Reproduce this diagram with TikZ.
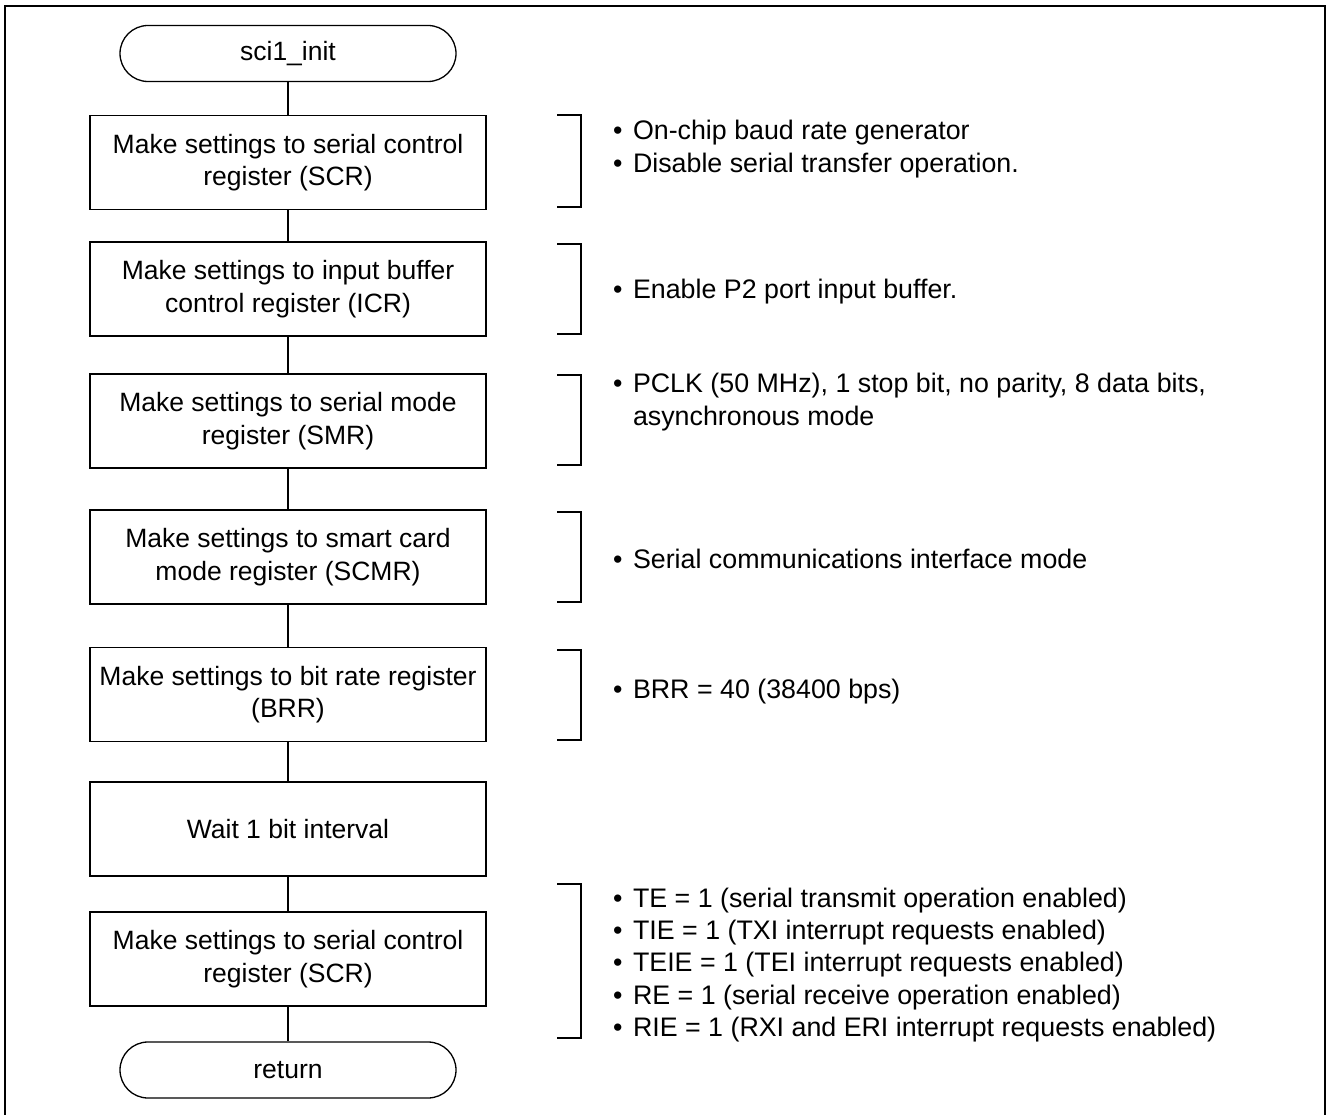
\documentclass[tikz,border=0pt]{standalone}
\usepackage{fontspec}
\setmainfont{Liberation Sans}
\newcommand{\bul}{•\hspace{3pt} }
\begin{document}
\begin{tikzpicture}[x=1pt,y=-1pt,
  every node/.style={font=\fontsize{26.5}{32.3}\selectfont, inner sep=0pt},
  procbox/.style={draw, line width=1.3pt, minimum width=396pt, minimum height=94pt, align=center},
  terminal/.style={draw, line width=1.3pt, rounded corners=28pt, minimum width=336pt, minimum height=56pt},
  link/.style={line width=1.3pt},
  bracketline/.style={line width=1.3pt},
  frameline/.style={line width=2.4pt},
  note/.style={anchor=west, align=left, font=\fontsize{26.8}{32.3}\selectfont},
]
\useasboundingbox (0,0) rectangle (1326,1115);

% outer frame, open at the bottom
\draw[frameline] (5,1115) -- (5,6) -- (1325,6) -- (1325,1115);

% flow
\node[terminal] (start) at (288,53.5) {sci1\_init};
\node[procbox] (scr1) at (288,162.5) {Make settings to serial control\\register (SCR)};
\node[procbox] (icr) at (288,289) {Make settings to input buffer\\control register (ICR)};
\node[procbox] (smr) at (288,421) {Make settings to serial mode\\register (SMR)};
\node[procbox] (scmr) at (288,557) {Make settings to smart card\\mode register (SCMR)};
\node[procbox] (brr) at (288,694.5) {Make settings to bit rate register\\(BRR)};
\node[procbox] (wait) at (288,829) {Wait 1 bit interval};
\node[procbox] (scr2) at (288,959) {Make settings to serial control\\register (SCR)};
\node[terminal] (ret) at (288,1070) {return};

\draw[link] (start) -- (scr1);
\draw[link] (scr1) -- (icr);
\draw[link] (icr) -- (smr);
\draw[link] (smr) -- (scmr);
\draw[link] (scmr) -- (brr);
\draw[link] (brr) -- (wait);
\draw[link] (wait) -- (scr2);
\draw[link] (scr2) -- (ret);

% side brackets
\draw[bracketline] (557,115) -- (581,115) -- (581,207) -- (557,207);
\draw[bracketline] (557,244) -- (581,244) -- (581,334) -- (557,334);
\draw[bracketline] (557,375) -- (581,375) -- (581,465) -- (557,465);
\draw[bracketline] (557,512) -- (581,512) -- (581,602) -- (557,602);
\draw[bracketline] (557,650) -- (581,650) -- (581,740) -- (557,740);
\draw[bracketline] (557,884) -- (581,884) -- (581,1038) -- (557,1038);

% notes
\node[note] (n1) at (613,149) {\bul On-chip baud rate generator\\\bul Disable serial transfer operation.};
\node[note] (n2) at (613,292) {\bul Enable P2 port input buffer.};
\node[note] (n3) at (613,402) {\bul PCLK (50 MHz), 1 stop bit, no parity, 8 data bits,\\\hphantom{\bul}asynchronous mode};
\node[note] (n4) at (613,559) {\bul Serial communications interface mode};
\node[note] (n5) at (613,692) {\bul BRR = 40 (38400 bps)};
\node[note] (n7) at (613,965) {\bul TE = 1 (serial transmit operation enabled)\\\bul TIE = 1 (TXI interrupt requests enabled)\\\bul TEIE = 1 (TEI interrupt requests enabled)\\\bul RE = 1 (serial receive operation enabled)\\\bul RIE = 1 (RXI and ERI interrupt requests enabled)};
\end{tikzpicture}
\end{document}
